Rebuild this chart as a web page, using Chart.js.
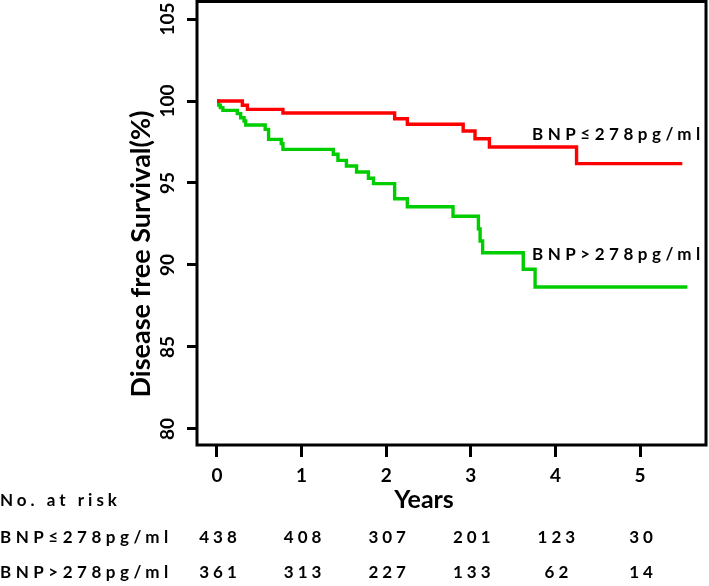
<!DOCTYPE html>
<html><head><meta charset="utf-8">
<script src="https://cdn.jsdelivr.net/npm/chart.js@4"></script>
<style>html,body{margin:0;padding:0;background:#fff}#wrap{width:709px;height:586px}</style>
</head><body><div id="wrap"><canvas id="c" width="709" height="586"></canvas></div>
<script>
// ---- data ----
const yearTicks = [0, 1, 2, 3, 4, 5];
const survTicks = [80, 85, 90, 95, 100, 105];
const lowLabel = 'BNP≤278pg/ml';
const highLabel = 'BNP>278pg/ml';
const lowTimes = [0, 0.30, 0.36, 0.78, 2.10, 2.25, 2.91, 3.05, 3.22, 4.25, 5.50];
const lowSurv  = [100, 99.74, 99.49, 99.27, 98.92, 98.58, 98.17, 97.70, 97.20, 96.18, 96.18];
const highTimes = [0, 0.02, 0.04, 0.07, 0.24, 0.28, 0.32, 0.34, 0.57, 0.61, 0.76, 0.78, 1.375, 1.43, 1.53, 1.65, 1.79, 1.85, 2.10, 2.25, 2.79, 3.09, 3.11, 3.14, 3.62, 3.76, 5.56];
const highSurv  = [100, 99.75, 99.6, 99.43, 99.23, 98.98, 98.78, 98.54, 98.27, 97.66, 97.40, 97.05, 96.75, 96.38, 96.04, 95.67, 95.29, 94.96, 94.04, 93.55, 92.97, 92.2, 91.46, 90.75, 89.74, 88.66, 88.66];
const riskTitle = 'No. at risk';
const riskLow  = [438, 408, 307, 201, 123, 30];
const riskHigh = [361, 313, 227, 133, 62, 14];
const xTitle = 'Years';
const yTitle = 'Disease free Survival(%)';

const FONT = 'Lato, "Open Sans", sans-serif';
const toPts = (t, s) => t.map((v, i) => ({x: v, y: s[i]}));

const decor = {
  id: 'decor',
  afterDraw(chart) {
    const ctx = chart.ctx, ca = chart.chartArea;
    const xs = chart.scales.x, ys = chart.scales.y;
    ctx.save();
    // box
    ctx.strokeStyle = '#000'; ctx.lineWidth = 3;
    ctx.strokeRect(ca.left, ca.top, ca.right - ca.left, ca.bottom - ca.top);
    ctx.fillStyle = '#000';
    // y tick labels (rotated)
    ctx.font = 'bold 19px ' + FONT;
    ctx.textAlign = 'center'; ctx.textBaseline = 'middle';
    survTicks.forEach(v => {
      const y = ys.getPixelForValue(v);
      ctx.save(); ctx.translate(168, y); ctx.rotate(-Math.PI / 2);
      ctx.fillText(String(v), 0, 0); ctx.restore();
    });
    // y title
    ctx.font = 'bold 27px ' + FONT;
    ctx.save(); ctx.translate(141, 254); ctx.rotate(-Math.PI / 2);
    ctx.fillText(yTitle, 0, 0); ctx.restore();
    // x title
    ctx.font = 'bold 25px ' + FONT;
    ctx.fillText(xTitle, 424, 500);
    // curve labels
    ctx.font = 'bold 17px ' + FONT;
    ctx.letterSpacing = '4.5px';
    ctx.textAlign = 'left';
    ctx.fillText(lowLabel, 532, 135);
    ctx.fillText(highLabel, 532, 255);
    // risk table
    ctx.font = 'bold 17px ' + FONT;
    ctx.letterSpacing = '4px';
    ctx.fillText(riskTitle, 0, 501);
    ctx.letterSpacing = '4.5px';
    ctx.fillText(lowLabel, 0, 538);
    ctx.fillText(highLabel, 0, 573);
    ctx.textAlign = 'center';
    ctx.letterSpacing = '4px';
    yearTicks.forEach((yr, i) => {
      const x = xs.getPixelForValue(yr) + 3;
      ctx.fillText(String(riskLow[i]), x, 538);
      ctx.fillText(String(riskHigh[i]), x, 573);
    });
    ctx.restore();
  }
};

new Chart(document.getElementById('c'), {
  type: 'line',
  data: {
    datasets: [
      { label: lowLabel, data: toPts(lowTimes, lowSurv), borderColor: '#FF0000', borderWidth: 3.4, stepped: true, pointRadius: 0, fill: false },
      { label: highLabel, data: toPts(highTimes, highSurv), borderColor: '#00CD00', borderWidth: 3.4, stepped: true, pointRadius: 0, fill: false }
    ]
  },
  options: {
    responsive: false, animation: false, devicePixelRatio: 1,
    layout: { padding: { left: 0, top: 1.5, right: 3, bottom: 0 } },
    plugins: { legend: { display: false }, tooltip: { enabled: false } },
    scales: {
      x: {
        type: 'linear', min: -0.236, max: 5.78,
        afterBuildTicks: s => { s.ticks = yearTicks.map(v => ({ value: v })); },
        afterFit: s => { s.height = 141; },
        border: { display: false },
        grid: { drawOnChartArea: false, drawTicks: true, tickLength: 12, tickWidth: 3, tickColor: '#000' },
        ticks: { color: '#000', font: { family: FONT, size: 19, weight: 'bold' }, padding: 7, maxRotation: 0 }
      },
      y: {
        type: 'linear', min: 79.02, max: 106.07,
        afterBuildTicks: s => { s.ticks = survTicks.map(v => ({ value: v })); },
        afterFit: s => { s.width = 197; },
        border: { display: false },
        grid: { drawOnChartArea: false, drawTicks: true, tickLength: 10, tickWidth: 3, tickColor: '#000' },
        ticks: { display: false }
      }
    }
  },
  plugins: [decor]
});
</script>
</body></html>
